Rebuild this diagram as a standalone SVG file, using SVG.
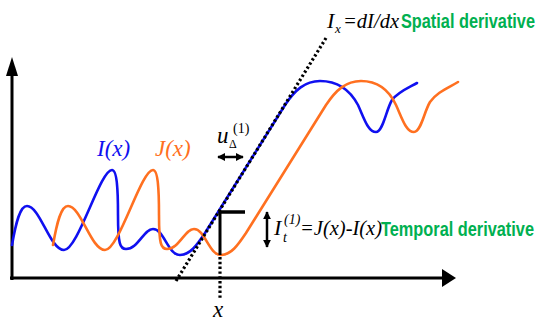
<svg xmlns="http://www.w3.org/2000/svg" width="539" height="325" viewBox="0 0 539 325">
<defs>
<style>
.ax{stroke:#000;stroke-width:3;fill:none}
.curve{fill:none;stroke-width:2.6;stroke-linejoin:round;stroke-linecap:round}
.dot{stroke:#000;stroke-width:3.2;stroke-dasharray:2.4 2.4;fill:none}
.m{font-family:"Liberation Serif","Times New Roman",serif;font-style:italic}
.g{font-family:"Liberation Sans",Arial,sans-serif;font-weight:bold;fill:#00B050;font-size:20px}
</style>
<marker id="ah" viewBox="0 0 10 10" refX="9" refY="5" markerWidth="8" markerHeight="8" markerUnits="userSpaceOnUse" orient="auto-start-reverse">
<path d="M0,0 L10,5 L0,10 Z" fill="#000"/>
</marker>
</defs>
<rect width="539" height="325" fill="#fff"/>
<g id="axes">
<line class="ax" x1="12" y1="280" x2="12" y2="72"/>
<polygon points="12,57 6,76 18,76" fill="#000"/>
<line class="ax" x1="10" y1="278" x2="444" y2="278"/>
<polygon points="456,278 442,269 442,287" fill="#000"/>
</g>
<g id="curves">
<path id="I" class="curve" stroke="#1010F0" d="M12,245 C16,222 20,206 27,206 C40,206 50,250 64,250 C78,250 100,170 112,170 C117,170 118,190 118,215 C118,244 120,249 126,249 C138,249 144,229 153,229 C164,229 168,255 180,255 C190,255 197,245 205,233 L285,105 C295,90 305,81 320,81 C338,81 350,90 358,105 C364,118 368,132 376,132 C383,132 386,110 392,100 C398,92 408,88 417,83"/>
<path id="J" class="curve" stroke="#FF7020" d="M53,245 C57,222 61,206 68,206 C81,206 91,250 105,250 C119,250 141,170 153,170 C158,170 159,190 159,215 C159,244 161,249 167,249 C179,249 185,229 194,229 C205,229 209,255 221,255 C231,255 238,245 246,233 L326,105 C336,90 346,81 361,81 C377,81 389,90 396,105 C402,118 406,132 414,132 C421,132 424,112 430,102 C437,92 448,88 458,82"/>
</g>
<g id="connectors">
<line class="dot" x1="176" y1="281" x2="326" y2="38"/>
<line class="dot" x1="220" y1="257" x2="220" y2="298"/>
<line x1="220" y1="212" x2="220" y2="255" stroke="#000" stroke-width="3"/>
<line x1="218.5" y1="212" x2="245" y2="212" stroke="#000" stroke-width="3.5"/>
<line x1="267" y1="212" x2="267" y2="247" stroke="#000" stroke-width="2.5" marker-start="url(#ah)" marker-end="url(#ah)"/>
<line x1="218" y1="157" x2="243" y2="157" stroke="#000" stroke-width="2.5" marker-start="url(#ah)" marker-end="url(#ah)"/>
</g>
<g id="labels">
<text class="m" x="97" y="156" font-size="23" fill="#1010F0">I(x)</text>
<text class="m" x="155" y="156" font-size="23" fill="#FF7020">J(x)</text>
<text class="m" x="217" y="143" font-size="23">u</text>
<text x="229" y="148" font-size="12" font-family="Liberation Serif,serif">Δ</text>
<text x="233" y="133" font-size="14" font-family="Liberation Serif,serif">(1)</text>
<text class="m" x="213" y="317" font-size="23">x</text>
<text class="m" x="327" y="28" font-size="22">I</text>
<text class="m" x="335" y="33" font-size="13">x</text>
<text class="m" x="343" y="28" font-size="22" textLength="56" lengthAdjust="spacingAndGlyphs">=dI/dx</text>
<text class="g" x="401" y="28" textLength="134" lengthAdjust="spacingAndGlyphs">Spatial derivative</text>
<text class="m" x="274" y="235" font-size="22">I</text>
<text class="m" x="283" y="242" font-size="14">t</text>
<text class="m" x="284" y="224" font-size="14">(1)</text>
<text class="m" x="300" y="235" font-size="22" textLength="82" lengthAdjust="spacingAndGlyphs">=J(x)-I(x)</text>
<text class="g" x="381" y="236" textLength="153" lengthAdjust="spacingAndGlyphs">Temporal derivative</text>
</g>
</svg>
